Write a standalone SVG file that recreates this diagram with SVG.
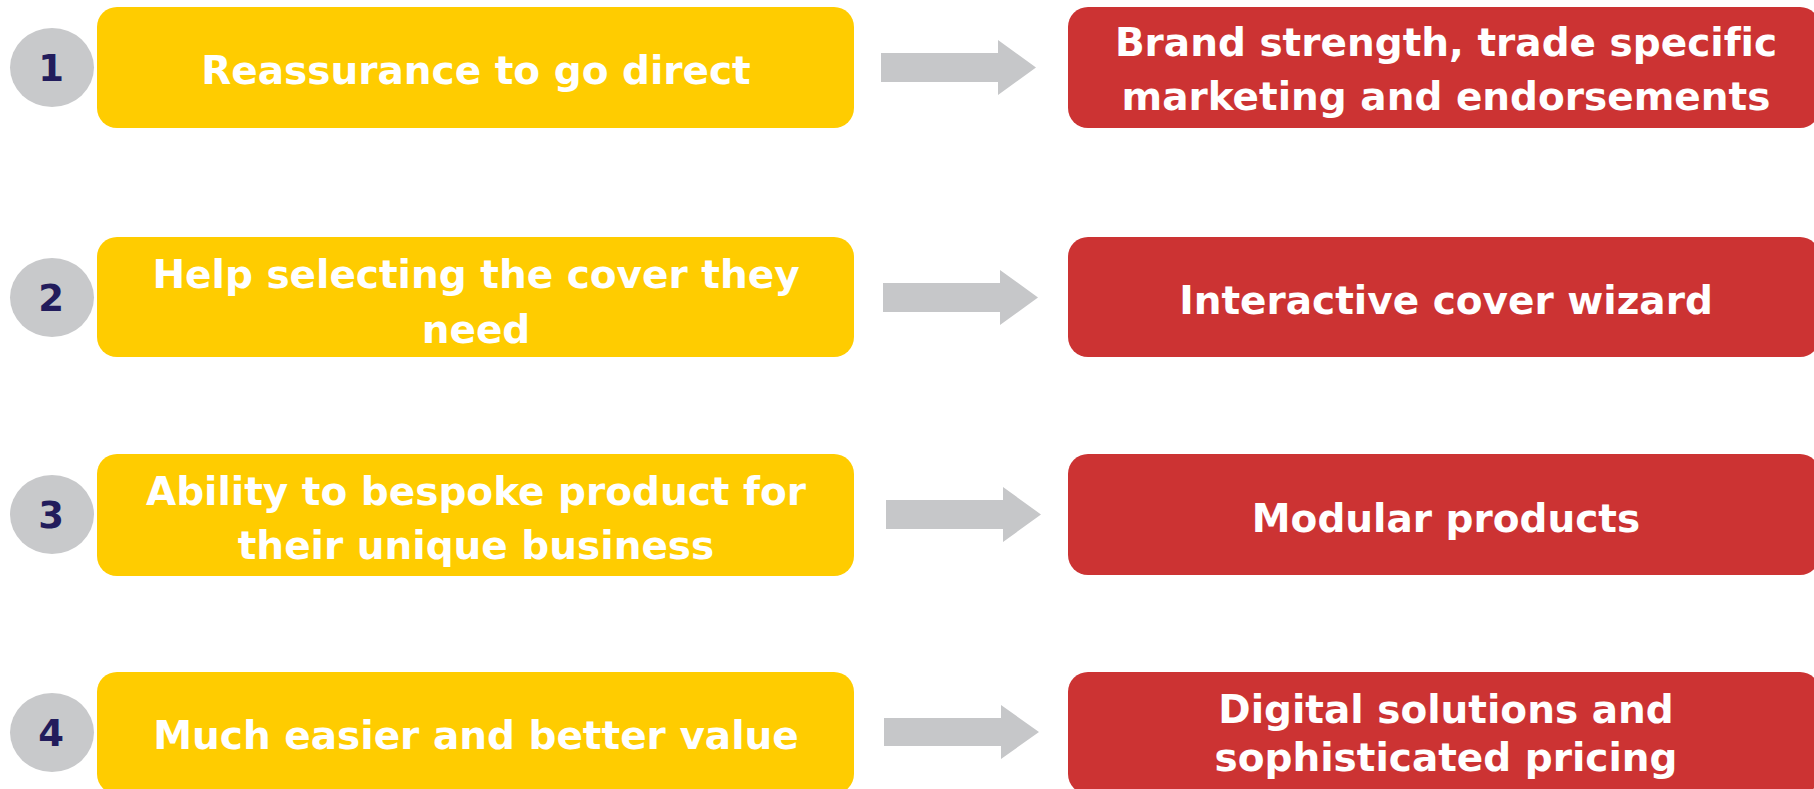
<svg xmlns="http://www.w3.org/2000/svg" width="1814" height="789" viewBox="0 0 1814 789">
  <style>
    .need { fill: #FFCC00; }
    .answer { fill: #CC3333; }
    .badge { fill: #C8C9CB; }
    .num { font-family: "DejaVu Sans", "Liberation Sans", sans-serif; font-weight: bold; font-size: 37px; fill: #221C5C; text-anchor: middle; }
    .label { font-family: "DejaVu Sans", "Liberation Sans", sans-serif; font-weight: bold; font-size: 39px; fill: #FFFFFF; text-anchor: middle; font-variant-ligatures: none; }
    .arrow { fill: #C6C7C9; }
  </style>
  <rect width="1814" height="789" fill="#FFFFFF"/>

  <!-- Row 1 -->
  <g id="badge-1">
    <ellipse class="badge" cx="52" cy="67.5" rx="42" ry="39.5"/>
    <text class="num" x="51" y="81">1</text>
  </g>
  <g id="need-1">
    <rect class="need" x="97" y="7" width="757" height="121" rx="20" ry="20"/>
    <text class="label" x="476" y="84">Reassurance to go direct</text>
  </g>
  <g id="answer-1">
    <rect class="answer" x="1068" y="7" width="752" height="121" rx="20" ry="20"/>
    <text class="label" x="1446" y="56">Brand strength, trade specific</text>
    <text class="label" x="1446" y="110">marketing and endorsements</text>
  </g>

  <!-- Row 2 -->
  <g id="badge-2">
    <ellipse class="badge" cx="52" cy="297.5" rx="42" ry="39.5"/>
    <text class="num" x="51" y="311">2</text>
  </g>
  <g id="need-2">
    <rect class="need" x="97" y="237" width="757" height="120" rx="20" ry="20"/>
    <text class="label" x="476" y="288">Help selecting the cover they</text>
    <text class="label" x="476" y="343">need</text>
  </g>
  <g id="answer-2">
    <rect class="answer" x="1068" y="237" width="752" height="120" rx="20" ry="20"/>
    <text class="label" x="1446" y="314">Interactive cover wizard</text>
  </g>

  <!-- Row 3 -->
  <g id="badge-3">
    <ellipse class="badge" cx="52" cy="514.5" rx="42" ry="39.5"/>
    <text class="num" x="51" y="528">3</text>
  </g>
  <g id="need-3">
    <rect class="need" x="97" y="454" width="757" height="122" rx="20" ry="20"/>
    <text class="label" x="476" y="505">Ability to bespoke product for</text>
    <text class="label" x="476" y="559">their unique business</text>
  </g>
  <g id="answer-3">
    <rect class="answer" x="1068" y="454" width="752" height="121" rx="20" ry="20"/>
    <text class="label" x="1446" y="532">Modular products</text>
  </g>

  <!-- Row 4 -->
  <g id="badge-4">
    <ellipse class="badge" cx="52" cy="732.5" rx="42" ry="39.5"/>
    <text class="num" x="51" y="746">4</text>
  </g>
  <g id="need-4">
    <rect class="need" x="97" y="672" width="757" height="122" rx="20" ry="20"/>
    <text class="label" x="476" y="749">Much easier and better value</text>
  </g>
  <g id="answer-4">
    <rect class="answer" x="1068" y="672" width="752" height="122" rx="20" ry="20"/>
    <text class="label" x="1446" y="723">Digital solutions and</text>
    <text class="label" x="1446" y="771">sophisticated pricing</text>
  </g>

  <!-- Block arrows linking each need to its answer -->
  <g id="connectors">
    <polygon class="arrow" points="881,53 998,53 998,40 1036,67.5 998,95 998,82 881,82"/>
    <polygon class="arrow" points="883,283 1000,283 1000,270 1038,297.5 1000,325 1000,312 883,312"/>
    <polygon class="arrow" points="886,500 1003,500 1003,487 1041,514.5 1003,542 1003,529 886,529"/>
    <polygon class="arrow" points="884,718 1001,718 1001,705 1039,732 1001,759 1001,746 884,746"/>
  </g>
</svg>
